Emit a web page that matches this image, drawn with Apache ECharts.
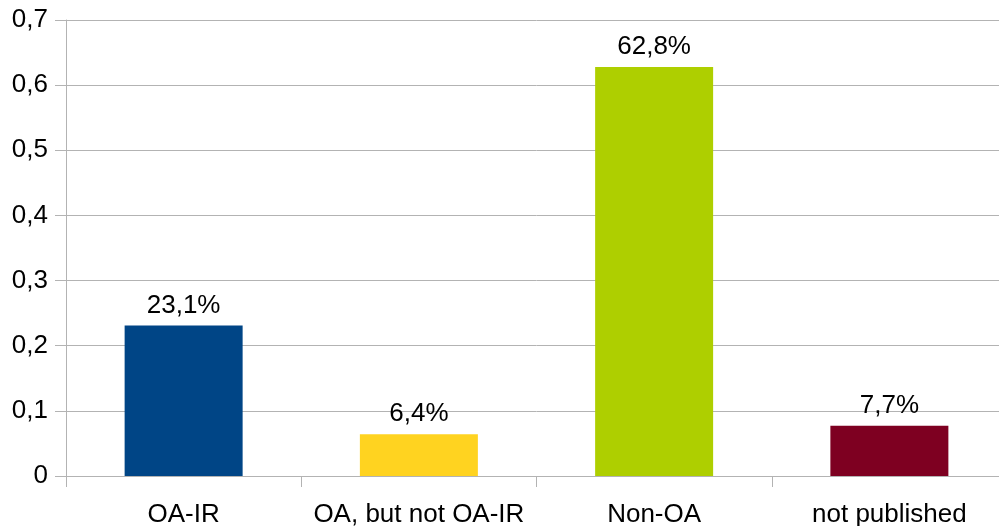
<!DOCTYPE html>
<html><head><meta charset="utf-8">
<script src="https://cdn.jsdelivr.net/npm/echarts@6/dist/echarts.min.js"></script>
<style>html,body{margin:0;padding:0;background:#fff;overflow:hidden;width:999px;height:526px}#c{width:1007px;height:526px}</style>
</head><body><div id="c"></div>
<script>
var categories = ['OA-IR', 'OA, but not OA-IR', 'Non-OA', 'not published'];
var values = [0.231, 0.064, 0.628, 0.077];
var colors = ['#004586', '#ffd320', '#aecf00', '#7e0021'];
var yTicks = [0, 0.1, 0.2, 0.3, 0.4, 0.5, 0.6, 0.7];

var chart = echarts.init(document.getElementById('c'), null, {renderer: 'canvas'});
var font = 'Liberation Sans, Arial, sans-serif';
chart.setOption({
  animation: false,
  grid: {left: 66, top: 20, right: 0, bottom: 50, containLabel: false, outerBoundsMode: 'none'},
  xAxis: {
    type: 'category', data: categories,
    axisLine: {show: true, lineStyle: {color: '#b3b3b3', width: 1}},
    axisTick: {show: true, length: 11, interval: 0, lineStyle: {color: '#b3b3b3'}},
    axisLabel: {color: '#000', fontFamily: font, fontSize: 26, margin: 26, interval: 0}
  },
  yAxis: {
    type: 'value', min: 0, max: 0.7, interval: 0.1,
    axisLine: {show: true, lineStyle: {color: '#b3b3b3', width: 1}},
    axisTick: {show: true, length: 11, lineStyle: {color: '#b3b3b3'}},
    splitLine: {show: true, lineStyle: {color: '#b3b3b3', width: 1}},
    axisLabel: {color: '#000', fontFamily: font, fontSize: 26, margin: 18, padding: [4, 0, 0, 0],
      formatter: function (v) { var r = Math.round(v * 10) / 10; return r === 0 ? '0' : r.toFixed(1).replace('.', ','); }}
  },
  series: [{
    type: 'bar',
    data: values.map(function (v, i) { return {value: v, itemStyle: {color: colors[i]}}; }),
    barWidth: 118,
    label: {show: true, position: 'top', distance: 7, color: '#000', fontFamily: font, fontSize: 26,
      formatter: function (p) { return (p.value * 100).toFixed(1).replace('.', ',') + '%'; }}
  }]
});
</script></body></html>
